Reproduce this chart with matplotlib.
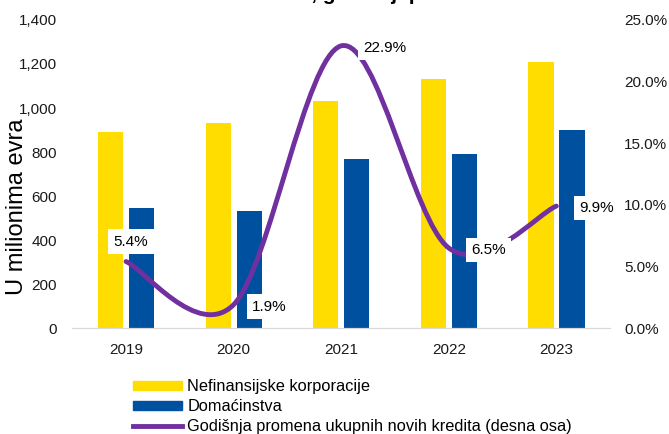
import numpy as np
import matplotlib.pyplot as plt
from matplotlib.path import Path
from matplotlib.patches import PathPatch, Patch
from matplotlib.lines import Line2D
from matplotlib.ticker import FuncFormatter

plt.rcParams['font.family'] = ['Liberation Sans', 'DejaVu Sans']

years = ['2019', '2020', '2021', '2022', '2023']
korporacije = [890, 930, 1030, 1130, 1210]
domacinstva = [545, 530, 770, 790, 900]
promena = [5.4, 1.9, 22.9, 6.5, 9.9]

yellow = '#FFDD00'
blue = '#0050A0'
purple = '#7030A0'

fig = plt.figure(figsize=(6.69, 4.34), dpi=100)
ax = fig.add_axes([0.108, 0.244, 0.804, 0.71])
ax2 = ax.twinx()

x = np.arange(len(years))
w = 0.235
ax.bar(x - 0.143, korporacije, w, color=yellow, zorder=2)
ax.bar(x + 0.145, domacinstva, w, color=blue, zorder=2)

ax.set_xlim(-0.5, 4.5)
ax.set_ylim(0, 1400)
ax.set_yticks(range(0, 1401, 200))
ax.yaxis.set_major_formatter(FuncFormatter(lambda v, p: f'{int(v):,}'))
ax.set_xticks(x)
ax.set_xticklabels(years)
ax.set_ylabel('U milionima evra', fontsize=17)
ax.yaxis.set_label_coords(-0.082, 0.395)

ax2.set_ylim(0, 25)
ax2.set_yticks(np.arange(0, 25.1, 5))
ax2.yaxis.set_major_formatter(FuncFormatter(lambda v, p: f'{v:.1f}%'))

for a in (ax, ax2):
    for s in ['top', 'left', 'right']:
        a.spines[s].set_visible(False)
    a.spines['bottom'].set_color('#D9D9D9')
    a.tick_params(length=0, labelsize=11, colors='#1a1a1a')
ax.tick_params(axis='y', pad=11)
ax2.tick_params(axis='y', pad=10)
ax.tick_params(axis='x', pad=11)

# smoothed line (catmull-rom -> bezier, as Excel does)
pts = list(zip(x.astype(float), promena))
n = len(pts)
verts = [pts[0]]
codes = [Path.MOVETO]
for i in range(n - 1):
    p0 = pts[i - 1] if i > 0 else pts[i]
    p1 = pts[i]
    p2 = pts[i + 1]
    p3 = pts[i + 2] if i + 2 < n else pts[i + 1]
    c1 = (p1[0] + (p2[0] - p0[0]) / 6, p1[1] + (p2[1] - p0[1]) / 6)
    c2 = (p2[0] - (p3[0] - p1[0]) / 6, p2[1] - (p3[1] - p1[1]) / 6)
    verts += [c1, c2, p2]
    codes += [Path.CURVE4] * 3
ax2.add_patch(PathPatch(Path(verts, codes), fill=False, edgecolor=purple,
                        lw=3.5, capstyle='round', zorder=3))

offsets = [(5, 20), (36, -2), (44, -2), (40, -2), (40, -2)]
for xi, v, off in zip(x, promena, offsets):
    ax2.annotate(f'{v}%', (xi, v), xytext=off, textcoords='offset pixels',
                 ha='center', va='center', fontsize=11, zorder=5,
                 bbox=dict(boxstyle='square,pad=0.35', fc='white', ec='none'))

fig.text(0.5, 0.999, 'Novi krediti, godišnji porast', ha='center',
         va='baseline', fontsize=15, fontweight='bold')

handles = [Patch(color=yellow), Patch(color=blue),
           Line2D([], [], color=purple, lw=3.5)]
labels = ['Nefinansijske korporacije', 'Domaćinstva',
          'Godišnja promena ukupnih novih kredita (desna osa)']
fig.legend(handles, labels, loc='upper left', bbox_to_anchor=(0.199, 0.126),
           frameon=False, fontsize=11.8, handlelength=3.0, handleheight=0.5,
           handletextpad=0.3, labelspacing=0.3, borderpad=0, borderaxespad=0)

fig.savefig('out.png', dpi=100)
